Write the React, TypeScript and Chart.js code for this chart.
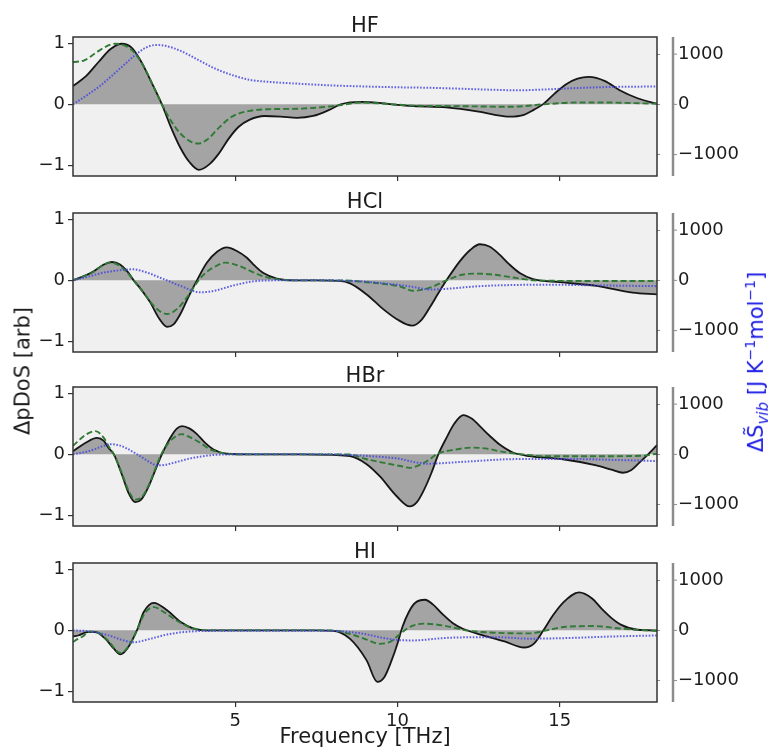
import React, { useEffect, useRef } from 'react';
import { Chart, registerables } from 'chart.js';

Chart.register(...registerables);

type Pt = [number, number];

// Axis ranges and tick values
const freqRange = [0, 18];
const freqTicks = [5, 10, 15];
const dosRange = [-1.17, 1.1];
const dosTicks = [-1, 0, 1];
const entropyRange = [-1426, 1341];
const entropyTicks = [-1000, 0, 1000];

// HF
const hfDos: Pt[] = [
  [0, 0.3], [0.4, 0.46], [0.8, 0.7], [1.15, 0.9], [1.5, 0.99], [1.8, 0.93], [2.1, 0.7], [2.4, 0.38],
  [2.74, 0], [3.0, -0.35], [3.3, -0.7], [3.6, -0.95], [3.88, -1.07], [4.2, -0.98], [4.5, -0.8],
  [4.8, -0.56], [5.1, -0.37], [5.45, -0.25], [5.9, -0.19], [6.4, -0.2], [6.9, -0.22], [7.4, -0.19],
  [7.9, -0.09], [8.25, 0], [8.9, 0.04], [9.5, 0.02], [10.0, -0.01], [10.5, -0.03], [11.5, -0.05],
  [12.5, -0.12], [13.0, -0.17], [13.45, -0.2], [13.9, -0.17], [14.2, -0.09], [14.48, 0], [14.85, 0.18],
  [15.2, 0.33], [15.55, 0.42], [15.9, 0.45], [16.4, 0.38], [16.85, 0.23], [17.4, 0.1], [18, 0.01],
];
const hfFit: Pt[] = [
  [0, 0.69], [0.35, 0.72], [0.7, 0.84], [1.0, 0.94], [1.3, 0.99], [1.6, 0.96], [1.9, 0.84], [2.2, 0.6],
  [2.5, 0.27], [2.74, 0], [3.0, -0.25], [3.3, -0.47], [3.6, -0.6], [3.85, -0.64], [4.15, -0.57],
  [4.5, -0.38], [4.9, -0.2], [5.4, -0.11], [6.0, -0.08], [7.0, -0.07], [8.0, -0.03], [8.9, 0.03],
  [9.6, 0.01], [10.5, -0.02], [12.0, -0.03], [13.5, -0.04], [14.5, 0], [15.5, 0.03], [16.5, 0.03],
  [17.3, 0.02], [18, 0.01],
];
const hfEntropy: Pt[] = [
  [0, 0], [0.4, 170], [0.85, 376], [1.2, 570], [1.55, 772], [1.95, 1000], [2.25, 1130], [2.55, 1182],
  [2.85, 1165], [3.3, 1069], [3.9, 871], [4.4, 706], [4.95, 574], [5.45, 488], [6.0, 450], [7.0, 409],
  [8.0, 376], [9.0, 356], [10.0, 340], [11.0, 330], [12.0, 310], [13.0, 290], [13.7, 280], [14.5, 295],
  [15.5, 325], [16.5, 345], [18, 356],
];

// HCl
const hclDos: Pt[] = [
  [0, 0], [0.3, 0.06], [0.64, 0.15], [0.95, 0.26], [1.2, 0.3], [1.45, 0.26], [1.67, 0.15], [1.87, 0],
  [2.1, -0.15], [2.38, -0.36], [2.65, -0.62], [2.9, -0.76], [3.1, -0.72], [3.31, -0.55], [3.55, -0.28],
  [3.82, 0], [4.13, 0.29], [4.45, 0.47], [4.74, 0.54], [5.05, 0.48], [5.36, 0.37], [5.6, 0.24],
  [5.87, 0.12], [6.28, 0.03], [6.8, 0], [7.5, 0], [8.2, -0.01], [8.54, -0.05], [9.05, -0.23],
  [9.56, -0.47], [9.97, -0.63], [10.45, -0.74], [10.75, -0.64], [11.0, -0.44], [11.25, -0.22],
  [11.51, 0], [11.92, 0.31], [12.25, 0.5], [12.54, 0.59], [12.85, 0.55], [13.15, 0.42], [13.45, 0.26],
  [13.77, 0.12], [14.18, 0.02], [15.0, -0.03], [16.13, -0.09], [17.25, -0.2], [18, -0.23],
];
const hclFit: Pt[] = [
  [0, 0], [0.3, 0.06], [0.64, 0.14], [0.9, 0.24], [1.15, 0.29], [1.4, 0.25], [1.65, 0.14], [1.87, 0],
  [2.2, -0.22], [2.55, -0.45], [2.9, -0.55], [3.2, -0.47], [3.51, -0.28], [3.87, 0], [4.1, 0.13],
  [4.33, 0.21], [4.7, 0.29], [5.1, 0.24], [5.56, 0.13], [5.9, 0.06], [6.28, 0.02], [7.0, 0], [8.3, 0],
  [9.05, -0.03], [9.6, -0.06], [10.08, -0.1], [10.5, -0.17], [11.0, -0.12], [11.51, 0], [11.9, 0.08],
  [12.35, 0.11], [12.85, 0.1], [13.4, 0.06], [13.77, 0.03], [14.2, 0], [16.0, -0.01], [18, -0.01],
];
const hclEntropy: Pt[] = [
  [0, 0], [0.5, 80], [0.85, 142], [1.3, 190], [1.67, 215], [1.87, 222], [2.1, 190], [2.38, 133],
  [2.65, 60], [2.9, 0], [3.15, -70], [3.41, -135], [3.7, -210], [3.92, -236], [4.2, -225], [4.43, -196],
  [4.95, -101], [5.56, -20], [6.28, 0], [8.0, 0], [8.5, -10], [9.05, -27], [9.5, -55], [10.08, -94],
  [10.5, -135], [11.0, -182], [11.51, -168], [12.54, -115], [13.77, -90], [14.6, -85], [16.13, -100],
  [18, -115],
];

// HBr
const hbrDos: Pt[] = [
  [0, 0.05], [0.39, 0.19], [0.74, 0.27], [0.95, 0.22], [1.1, 0.1], [1.26, 0], [1.5, -0.32],
  [1.72, -0.64], [1.92, -0.78], [2.1, -0.74], [2.3, -0.56], [2.55, -0.24], [2.74, 0], [3.0, 0.27],
  [3.2, 0.42], [3.36, 0.46], [3.6, 0.42], [3.82, 0.33], [4.05, 0.2], [4.33, 0.08], [4.74, 0.01],
  [5.5, 0], [7.0, 0], [8.0, -0.01], [8.54, -0.03], [9.05, -0.16], [9.46, -0.36], [9.97, -0.68],
  [10.38, -0.85], [10.6, -0.78], [10.8, -0.6], [11.05, -0.3], [11.26, 0], [11.51, 0.27], [11.75, 0.5],
  [12.03, 0.64], [12.3, 0.58], [12.54, 0.46], [12.85, 0.3], [13.15, 0.16], [13.56, 0.03],
  [14.07, -0.03], [15.1, -0.08], [16.13, -0.18], [16.6, -0.25], [16.95, -0.3], [17.2, -0.26],
  [17.45, -0.14], [17.67, -0.03], [18, 0.15],
];
const hbrFit: Pt[] = [
  [0, 0.14], [0.39, 0.32], [0.69, 0.38], [0.95, 0.27], [1.1, 0.13], [1.26, 0], [1.5, -0.3],
  [1.72, -0.6], [1.92, -0.74], [2.1, -0.71], [2.3, -0.54], [2.55, -0.22], [2.72, 0], [3.0, 0.22],
  [3.36, 0.33], [3.6, 0.28], [3.92, 0.19], [4.2, 0.09], [4.54, 0.03], [5.0, 0], [8.5, 0], [9.05, -0.08],
  [9.5, -0.13], [10.08, -0.19], [10.38, -0.22], [10.7, -0.17], [11.0, -0.08], [11.2, 0], [11.8, 0.08],
  [12.3, 0.11], [12.8, 0.09], [13.15, 0.05], [13.87, 0], [14.5, -0.03], [16.5, -0.03], [17.6, -0.02],
  [18, 0.01],
];
const hbrEntropy: Pt[] = [
  [0, 0], [0.3, 35], [0.64, 95], [0.9, 160], [1.15, 200], [1.4, 185], [1.65, 120], [1.9, 30],
  [2.18, -80], [2.4, -170], [2.59, -218], [2.8, -212], [3.1, -168], [3.62, -80], [4.33, -13], [5.0, 0],
  [8.0, 0], [8.54, -13], [9.56, -54], [10.08, -90], [10.49, -150], [10.9, -186], [12.03, -148],
  [13.56, -95], [15.1, -90], [16.64, -110], [18, -134],
];

// HI
const hiDos: Pt[] = [
  [0, -0.1], [0.18, -0.08], [0.44, -0.03], [0.69, -0.03], [1.0, -0.14], [1.26, -0.3], [1.46, -0.39],
  [1.67, -0.3], [1.97, 0], [2.18, 0.3], [2.49, 0.45], [2.9, 0.33], [3.31, 0.14], [3.72, 0.03], [4.2, 0],
  [7.5, 0], [8.03, -0.01], [8.54, -0.14], [9.05, -0.49], [9.38, -0.84], [9.6, -0.76], [9.8, -0.52],
  [10.0, -0.22], [10.15, 0.05], [10.35, 0.3], [10.55, 0.45], [10.85, 0.5], [11.1, 0.42], [11.4, 0.26],
  [11.7, 0.12], [12.0, 0.03], [12.5, -0.06], [13.3, -0.18], [13.9, -0.28], [14.2, -0.22], [14.5, 0],
  [14.8, 0.25], [15.1, 0.45], [15.6, 0.62], [16.0, 0.52], [16.3, 0.35], [16.6, 0.2], [16.9, 0.09],
  [17.4, 0.01], [18, 0],
];
const hiFit: Pt[] = [
  [0, -0.19], [0.15, -0.14], [0.3, -0.1], [0.51, -0.02], [0.82, -0.05], [1.1, -0.18], [1.46, -0.37],
  [1.7, -0.27], [1.97, 0], [2.2, 0.27], [2.49, 0.38], [2.8, 0.3], [3.1, 0.19], [3.4, 0.1], [3.72, 0.03],
  [4.2, 0], [8.0, 0], [8.54, -0.06], [9.05, -0.15], [9.46, -0.22], [9.8, -0.18], [10.08, -0.06],
  [10.3, 0.03], [10.5, 0.08], [10.8, 0.11], [11.51, 0.07], [12.1, 0], [13.05, -0.04], [14.07, -0.05],
  [14.6, 0], [15.2, 0.06], [16.1, 0.07], [16.85, 0.03], [18, -0.01],
];
const hiEntropy: Pt[] = [
  [0, 0], [0.51, -20], [1.1, -100], [1.51, -190], [1.85, -237], [2.38, -169], [2.9, -81], [3.41, -34],
  [3.92, -14], [5.0, -8], [8.0, -10], [8.54, -34], [9.05, -81], [9.56, -150], [10.08, -195],
  [10.49, -200], [11.51, -150], [13.05, -135], [14.07, -165], [15.1, -155], [16.64, -122], [18, -101],
];

const panelTitles = ['HF', 'HCl', 'HBr', 'HI'];
const dosSeries = [hfDos, hclDos, hbrDos, hiDos];
const fitSeries = [hfFit, hclFit, hbrFit, hiFit];
const entropySeries = [hfEntropy, hclEntropy, hbrEntropy, hiEntropy];

// Page layout (pixels)
const PAGE_W = 771;
const PAGE_H = 752;
const PLOT_TOPS = [37, 213, 387, 563];
const PLOT_H = 139;
const TITLE_BLOCK = 24;
const AXIS_LEFT = 73;
const AXIS_RIGHT = 114;
const SPINE_OFFSET = 16;

const FONT = '"DejaVu Sans", "Liberation Sans", sans-serif';
const INK = '#1c1c1c';

const fmtMinus = (v: number) => (v < 0 ? '\u2212' + Math.abs(v) : String(v));

const panelDecor = {
  id: 'panelDecor',
  beforeDraw(chart: any) {
    const { ctx, chartArea: a } = chart;
    ctx.save();
    ctx.fillStyle = '#f0f0f0';
    ctx.fillRect(a.left, a.top, a.right - a.left, a.bottom - a.top);
    ctx.restore();
  },
  afterDatasetsDraw(chart: any) {
    const { ctx, chartArea: a } = chart;
    ctx.save();
    // frame
    ctx.strokeStyle = '#333333';
    ctx.lineWidth = 1.5;
    ctx.strokeRect(a.left, a.top, a.right - a.left, a.bottom - a.top);
    // detached right-hand spine for the entropy axis
    const sx = a.right + SPINE_OFFSET;
    ctx.strokeStyle = '#8c8c8c';
    ctx.lineWidth = 2.5;
    ctx.beginPath();
    ctx.moveTo(sx, a.top);
    ctx.lineTo(sx, a.bottom);
    ctx.stroke();
    ctx.lineWidth = 1;
    const y2 = chart.scales.y2;
    entropyTicks.forEach((v) => {
      const y = y2.getPixelForValue(v);
      ctx.beginPath();
      ctx.moveTo(sx, y);
      ctx.lineTo(sx + 4, y);
      ctx.stroke();
    });
    ctx.restore();
  },
};

function Panel({ index }: { index: number }) {
  const ref = useRef<HTMLCanvasElement>(null);
  const last = index === panelTitles.length - 1;
  const bottomBlock = last ? PAGE_H - (PLOT_TOPS[index] + PLOT_H) : 12;
  const canvasTop = PLOT_TOPS[index] - TITLE_BLOCK;
  const canvasH = TITLE_BLOCK + PLOT_H + bottomBlock;

  useEffect(() => {
    const toXY = (pts: Pt[]) => pts.map(([x, y]) => ({ x, y }));
    const chart = new Chart(ref.current as HTMLCanvasElement, {
      type: 'line',
      data: {
        datasets: [
          {
            label: 'ΔpDoS',
            data: toXY(dosSeries[index]),
            yAxisID: 'y',
            borderColor: '#161616',
            borderWidth: 1.8,
            backgroundColor: '#a4a4a4',
            fill: 'origin',
            pointRadius: 0,
            cubicInterpolationMode: 'monotone',
            order: 3,
          },
          {
            label: 'fit',
            data: toXY(fitSeries[index]),
            yAxisID: 'y',
            borderColor: '#2f7a34',
            borderWidth: 1.9,
            borderDash: [6, 3],
            fill: false,
            pointRadius: 0,
            cubicInterpolationMode: 'monotone',
            order: 2,
          },
          {
            label: 'ΔS̃vib',
            data: toXY(entropySeries[index]),
            yAxisID: 'y2',
            borderColor: 'rgba(72,72,225,0.85)',
            borderWidth: 2,
            borderDash: [1.6, 1.6],
            fill: false,
            pointRadius: 0,
            cubicInterpolationMode: 'monotone',
            order: 1,
          },
        ],
      },
      options: {
        responsive: false,
        animation: false,
        events: [],
        layout: { padding: 0 },
        plugins: {
          legend: { display: false },
          tooltip: { enabled: false },
          title: {
            display: true,
            text: panelTitles[index],
            fullSize: false,
            color: INK,
            font: { family: FONT, size: 21, weight: 'normal', lineHeight: 1 },
            padding: { top: 3, bottom: 0 },
          },
        },
        scales: {
          x: {
            type: 'linear',
            min: freqRange[0],
            max: freqRange[1],
            afterBuildTicks: (s: any) => {
              s.ticks = freqTicks.map((v) => ({ value: v }));
            },
            afterFit: (s: any) => {
              s.height = bottomBlock;
              s.paddingLeft = 0;
              s.paddingRight = 0;
            },
            border: { display: false },
            grid: { display: true, drawOnChartArea: false, drawTicks: true, tickLength: 5, color: '#333333', lineWidth: 1.2 },
            ticks: {
              display: last,
              autoSkip: false,
              maxRotation: 0,
              padding: 4,
              color: INK,
              font: { family: FONT, size: 18 },
            },
            title: {
              display: last,
              text: 'Frequency [THz]',
              color: INK,
              font: { family: FONT, size: 21, lineHeight: 1.2 },
              padding: { top: 0, bottom: 2 },
            },
          },
          y: {
            type: 'linear',
            position: 'left',
            min: dosRange[0],
            max: dosRange[1],
            afterBuildTicks: (s: any) => {
              s.ticks = dosTicks.map((v) => ({ value: v }));
            },
            afterFit: (s: any) => {
              s.width = AXIS_LEFT;
              s.paddingTop = 0;
              s.paddingBottom = 0;
            },
            border: { display: false },
            grid: { drawOnChartArea: false, drawTicks: true, tickLength: 5, color: '#333333', lineWidth: 1.2 },
            ticks: {
              padding: 3,
              color: INK,
              font: { family: FONT, size: 18 },
              callback: (v: any) => fmtMinus(Number(v)),
            },
          },
          y2: {
            type: 'linear',
            position: 'right',
            min: entropyRange[0],
            max: entropyRange[1],
            afterBuildTicks: (s: any) => {
              s.ticks = entropyTicks.map((v) => ({ value: v }));
            },
            afterFit: (s: any) => {
              s.width = AXIS_RIGHT;
              s.paddingTop = 0;
              s.paddingBottom = 0;
            },
            border: { display: false },
            grid: { drawOnChartArea: false, drawTicks: true, tickLength: 3, color: '#8c8c8c', lineWidth: 1 },
            ticks: {
              padding: 18,
              color: INK,
              font: { family: FONT, size: 18 },
              callback: (v: any) => fmtMinus(Number(v)),
            },
          },
        },
      } as any,
      plugins: [panelDecor],
    });
    return () => chart.destroy();
  }, [index]);

  return (
    <canvas
      ref={ref}
      width={PAGE_W}
      height={canvasH}
      style={{ position: 'absolute', left: 0, top: canvasTop, width: PAGE_W, height: canvasH, display: 'block' }}
    />
  );
}

export default function App() {
  return (
    <div
      style={{
        position: 'absolute',
        left: 0,
        top: 0,
        width: PAGE_W,
        height: PAGE_H,
        overflow: 'hidden',
        background: '#ffffff',
        fontFamily: FONT,
      }}
    >
      {panelTitles.map((_, i) => (
        <Panel key={i} index={i} />
      ))}
      <div
        style={{
          position: 'absolute',
          left: 23,
          top: 371,
          transform: 'translate(-50%, -50%) rotate(-90deg)',
          whiteSpace: 'nowrap',
          fontSize: 21,
          color: INK,
          lineHeight: 1,
        }}
      >
        ΔpDoS [arb]
      </div>
      <div
        style={{
          position: 'absolute',
          left: 757,
          top: 362,
          transform: 'translate(-50%, -50%) rotate(-90deg)',
          whiteSpace: 'nowrap',
          fontSize: 21,
          color: '#1a1ae6',
          lineHeight: 1,
        }}
      >
        ΔS&#771;<sub style={{ fontSize: 15, fontStyle: 'italic' }}>vib</sub> [J K<sup style={{ fontSize: 14 }}>−1</sup>mol
        <sup style={{ fontSize: 14 }}>−1</sup>]
      </div>
    </div>
  );
}
